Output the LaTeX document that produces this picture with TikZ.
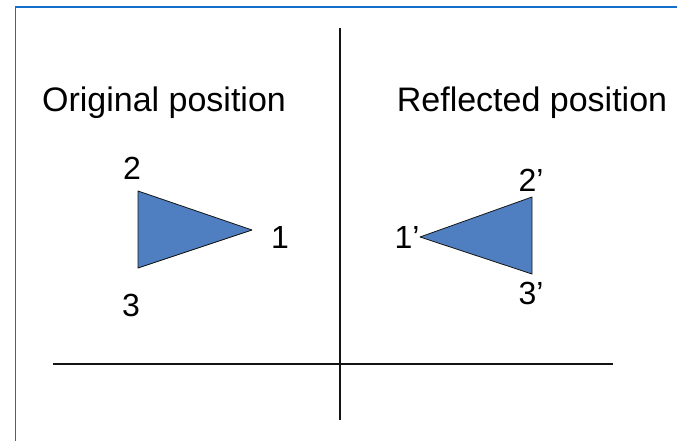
\documentclass[tikz,border=0pt]{standalone}
\usepackage{fontspec}
\setmainfont{Liberation Sans}
\usepackage{xcolor}
\usepackage{tikz}
\definecolor{rfedge}{RGB}{20,20,20}
\definecolor{rffill}{RGB}{79,127,192}
\definecolor{rfframe}{RGB}{18,112,204}
\tikzset{
  axis/.style={draw=rfedge, line width=1.6pt},
  frame/.style={draw=rfframe, line width=1.8pt},
  tri/.style={draw=rfedge, fill=rffill, line width=0.8pt, line join=round},
  ttl/.style={anchor=base, inner sep=0pt, font=\fontsize{34}{40}\selectfont},
  vlab/.style={anchor=center, inner sep=0pt, font=\fontsize{32}{38}\selectfont}
}
\begin{document}
\begin{tikzpicture}[x=1pt, y=-1pt]
  \useasboundingbox (0,0) rectangle (677,441);
  % frame
  \coordinate (fl) at (15.5,441);
  \coordinate (fc) at (15.5,7);
  \coordinate (fr) at (677,7);
  \draw[frame] (fl) -- (fc) -- (fr);
  % mirror lines
  \coordinate (vtop) at (340,28);
  \coordinate (vbot) at (340,420);
  \coordinate (hl) at (53,364);
  \coordinate (hr) at (613,364);
  \draw[axis] (vtop) -- (vbot);
  \draw[axis] (hl) -- (hr);
  % titles
  \node[ttl] (orig) at (164,112) {Original position};
  \node[ttl] (refl) at (532,112) {Reflected position};
  % original triangle
  \coordinate (p1) at (252,230);
  \coordinate (p2) at (138,191);
  \coordinate (p3) at (138,268);
  \draw[tri] (p1) -- (p2) -- (p3) -- cycle;
  \node[vlab] (l1) at (280,237) {1};
  \node[vlab] (l2) at (132,168) {2};
  \node[vlab] (l3) at (131,305) {3};
  % reflected triangle
  \coordinate (q1) at (420,237);
  \coordinate (q2) at (532,197);
  \coordinate (q3) at (532,274);
  \draw[tri] (q1) -- (q2) -- (q3) -- cycle;
  \node[vlab] (m1) at (407,237) {1'};
  \node[vlab] (m2) at (531,180) {2'};
  \node[vlab] (m3) at (531,293) {3'};
\end{tikzpicture}
\end{document}
